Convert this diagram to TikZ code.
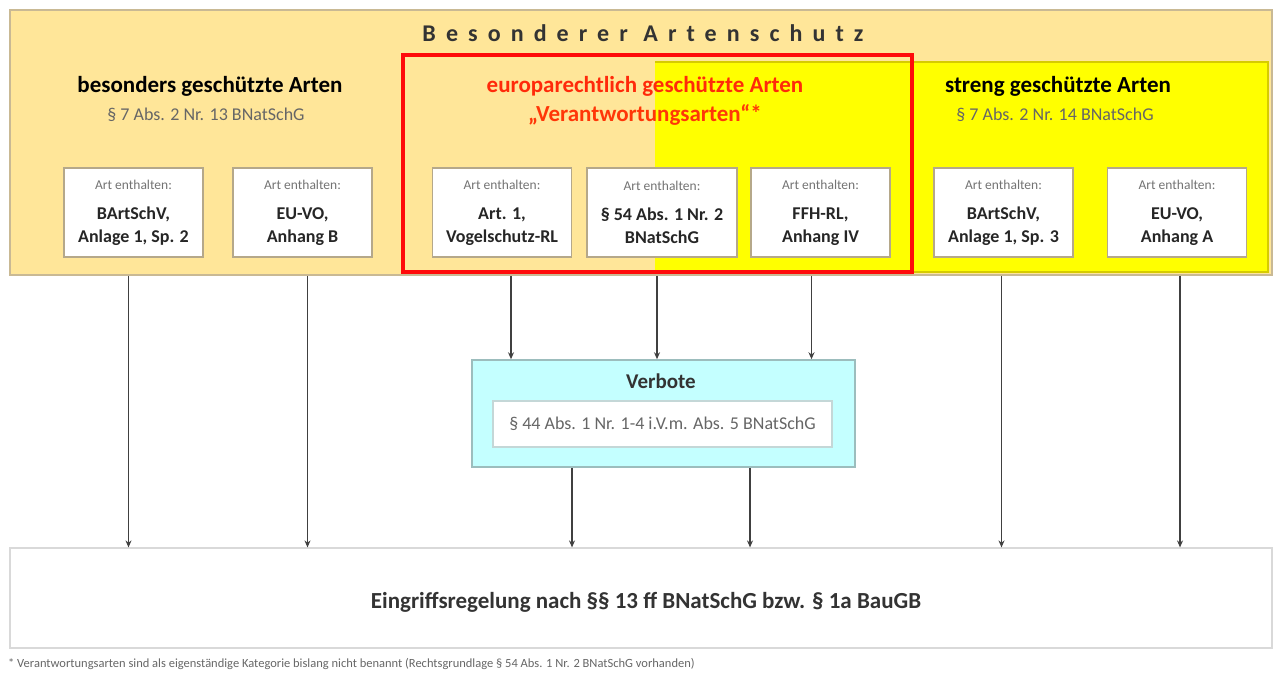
\documentclass[tikz,border=0pt]{standalone}
\usepackage{fontspec}
\setmainfont{Carlito}
\usetikzlibrary{arrows.meta}
\definecolor{bandfill}{HTML}{FFE699}
\definecolor{bandline}{HTML}{C9B994}
\definecolor{yel}{HTML}{FFFF00}
\definecolor{yelline}{HTML}{D6CB00}
\definecolor{boxline}{HTML}{B5A88A}
\definecolor{cyanfill}{HTML}{C4FFFF}
\definecolor{cyanline}{HTML}{9CBDBD}
\definecolor{redframe}{HTML}{FF0A0A}
\definecolor{redtext}{HTML}{FF2A0A}
\definecolor{arrowc}{HTML}{404040}
\begin{document}
\begin{tikzpicture}[x=1pt,y=-1pt,
  artbox/.style={draw=boxline, line width=1.5pt, fill=white, minimum width=139pt,
    minimum height=89pt, inner sep=0pt, align=center,
    font=\fontsize{18}{23}\selectfont\bfseries, text=black!85},
  head/.style={font=\fontsize{23}{26}\selectfont\bfseries, inner sep=0pt},
  sub/.style={font=\fontsize{18}{20}\selectfont, text=black!60, inner sep=0pt},
  arr/.style={draw=arrowc, line width=1.3pt, -{Stealth[length=7pt,width=6pt]}}]
\useasboundingbox (0,0) rectangle (1276,673);
% outer band
\node[draw=bandline, fill=bandfill, line width=1.5pt, minimum width=1262pt, minimum height=265pt, inner sep=0pt] (band) at (641,142.5) {};
% yellow region
\fill[yel] (655,62) rectangle (1268,272);
\draw[yelline, line width=1.5pt] (655,62) -- (1268,62) -- (1268,272) -- (655,272);
% title
\node[font=\fontsize{24}{28}\selectfont\bfseries\addfontfeature{LetterSpace=42}, text=black!80, inner sep=0pt] (title) at (643,33) {Besonderer Artenschutz};
% headers
\node[head] (h1) at (210,86) {besonders geschützte Arten};
\node[sub] (s1) at (206,115) {§ 7 Abs. 2 Nr. 13 BNatSchG};
\node[head, text=redtext] (h2) at (645,86) {europarechtlich geschützte Arten};
\node[head, text=redtext!85!orange] (s2) at (645,115) {„Verantwortungsarten“*};
\node[head] (h3) at (1058,86) {streng geschützte Arten};
\node[sub] (s3) at (1055,115) {§ 7 Abs. 2 Nr. 14 BNatSchG};
% boxes
\newcommand{\artlab}{{\fontsize{13.5}{15}\selectfont\mdseries\color{black!55}Art enthalten:}\\[7pt]}
\node[artbox] (b1) at (133.5,212.5) {\artlab BArtSchV,\\Anlage 1, Sp. 2};
\node[artbox] (b2) at (302.5,212.5) {\artlab EU-VO,\\Anhang B};
\node[artbox] (b3) at (502,212.5) {\artlab Art. 1,\\Vogelschutz-RL};
\node[artbox, minimum width=150pt] (b4) at (662,212.5) {\artlab § 54 Abs. 1 Nr. 2\\BNatSchG};
\node[artbox] (b5) at (820.5,212.5) {\artlab FFH-RL,\\Anhang IV};
\node[artbox] (b6) at (1003.5,212.5) {\artlab BArtSchV,\\Anlage 1, Sp. 3};
\node[artbox] (b7) at (1177,212.5) {\artlab EU-VO,\\Anhang A};
% red frame
\draw[redframe, line width=3.5pt] (403,55) rectangle (912,272);
% Verbote
\node[draw=cyanline, fill=cyanfill, line width=1.5pt, minimum width=383pt, minimum height=107pt, inner sep=0pt] (verb) at (663.5,413.5) {};
\node[font=\fontsize{21}{24}\selectfont\bfseries, text=black!80, inner sep=0pt] (vt) at (661,381) {Verbote};
\node[draw=cyanline!60, fill=white, line width=1.2pt, minimum width=339pt, minimum height=46pt, inner sep=0pt, font=\fontsize{18}{20}\selectfont, text=black!60] (vin) at (662.5,424) {§ 44 Abs. 1 Nr. 1-4 i.V.m. Abs. 5 BNatSchG};
% bottom box
\node[draw=black!15, fill=white, line width=1.2pt, minimum width=1262pt, minimum height=100pt, inner sep=0pt] (eingr) at (641,598) {};
\node[font=\fontsize{23}{26}\selectfont\bfseries, text=black!80, inner sep=0pt] (et) at (646,602) {Eingriffsregelung nach §§ 13 ff BNatSchG bzw. § 1a BauGB};
% footer
\node[anchor=west, font=\fontsize{12.5}{14}\selectfont, text=black!60, inner sep=0pt] (foot) at (8,664) {* Verantwortungsarten sind als eigenständige Kategorie bislang nicht benannt (Rechtsgrundlage § 54 Abs. 1 Nr. 2 BNatSchG vorhanden)};
% arrow anchor coordinates
\coordinate (a1) at ([xshift=-5pt]b1.south);
\coordinate (a2) at ([xshift=5pt]b2.south);
\coordinate (a3) at ([xshift=9pt]b3.south);
\coordinate (a4) at ([xshift=-5pt]b4.south);
\coordinate (a5) at ([xshift=-9pt]b5.south);
\coordinate (a6) at ([xshift=-2pt]b6.south);
\coordinate (a7) at ([xshift=3pt]b7.south);
\coordinate (v1) at ([xshift=-91.5pt]verb.south);
\coordinate (v2) at ([xshift=86.5pt]verb.south);
% arrows
\draw[arr] (a1 |- band.south) -- (a1 |- eingr.north);
\draw[arr] (a2 |- band.south) -- (a2 |- eingr.north);
\draw[arr] (a6 |- band.south) -- (a6 |- eingr.north);
\draw[arr] (a7 |- band.south) -- (a7 |- eingr.north);
\draw[arr] (a3 |- band.south) -- (a3 |- verb.north);
\draw[arr] (a4 |- band.south) -- (a4 |- verb.north);
\draw[arr] (a5 |- band.south) -- (a5 |- verb.north);
\draw[arr] (v1) -- (v1 |- eingr.north);
\draw[arr] (v2) -- (v2 |- eingr.north);
\end{tikzpicture}
\end{document}
